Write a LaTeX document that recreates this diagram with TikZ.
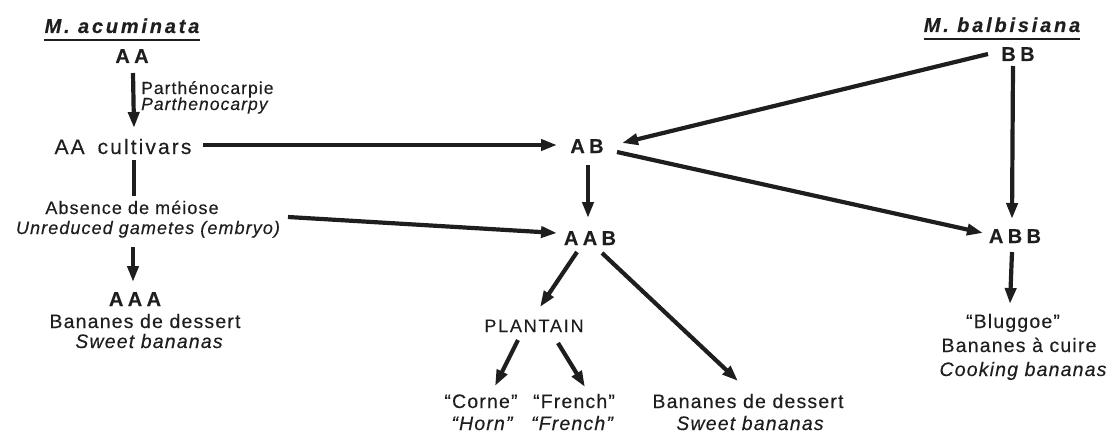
\documentclass[tikz,border=0pt]{standalone}
\usepackage{fontspec}
\setmainfont{Liberation Sans}[LetterSpace=6,FakeBold=0.3]
\usetikzlibrary{arrows.meta,calc}
\definecolor{ink}{HTML}{1E1E1E}
\tikzset{
  title/.style={font=\fontsize{20}{22}\selectfont\bfseries\itshape\addfontfeatures{LetterSpace=14}, inner sep=0pt, text=ink, anchor=base},
  gen/.style={font=\fontsize{20}{22}\selectfont\bfseries\addfontfeatures{LetterSpace=22}, inner sep=0pt, text=ink, anchor=base},
  txt/.style={font=\fontsize{19.5}{22}\selectfont, inner sep=0pt, text=ink, anchor=base},
  itx/.style={txt, font=\fontsize{19.5}{22}\selectfont\itshape},
  small/.style={font=\fontsize{17.5}{18}\selectfont, inner sep=0pt, text=ink, anchor=base west},
  uline/.style={line width=2.6pt, draw=ink},
  arr/.style={line width=4.2pt, draw=ink, -{Triangle[length=16pt,width=11pt]}},
  plainline/.style={line width=4.6pt, draw=ink},
}
\begin{document}
\begin{tikzpicture}[x=1pt,y=-1pt]
\useasboundingbox (0,0) rectangle (1116,436);
% titles
\node[title] (acum) at (122,33) {M. acuminata};
\draw[uline] (acum.base west |- 0,40) -- (acum.base east |- 0,40);
\node[title] (balb) at (1002,32) {M. balbisiana};
\draw[uline] (balb.base west |- 0,39) -- (balb.base east |- 0,39);
% genome nodes
\node[gen] (AA) at (132,63) {AA};
\node[gen] (BB) at (1018,61) {BB};
\node[gen] (AB) at (587,153) {AB};
\node[gen] (AAB) at (590,245) {AAB};
\node[gen] (ABB) at (1015,243) {ABB};
\node[gen] (AAA) at (135,306) {AAA};
% text nodes
\node[small] (parth1) at (141,94) {Parthénocarpie};
\node[small, font=\fontsize{17.5}{18}\selectfont\itshape] (parth2) at (141,110) {Parthenocarpy};
\node[txt, font=\fontsize{21}{22}\selectfont\addfontfeatures{LetterSpace=10}] (cult) at (123,154) {AA\hspace{5pt} cultivars};
\node[txt, font=\fontsize{18}{20}\selectfont] (abs1) at (132,214) {Absence de méiose};
\node[itx, font=\fontsize{18}{20}\selectfont\itshape] (abs2) at (148,234) {Unreduced gametes (embryo)};
\node[txt] (swL1) at (145,328) {Bananes de dessert};
\node[itx] (swL2) at (149,348) {Sweet bananas};
\node[txt, font=\fontsize{18}{20}\selectfont\addfontfeatures{LetterSpace=10}] (plant) at (534,332) {PLANTAIN};
\node[txt] (corne1) at (481,408) {“Corne”};
\node[itx] (corne2) at (482,430) {“Horn”};
\node[txt] (french1) at (574,408) {“French”};
\node[itx] (french2) at (572,430) {“French”};
\node[txt] (swR1) at (748,408) {Bananes de dessert};
\node[itx] (swR2) at (750,430) {Sweet bananas};
\node[txt] (blug1) at (1013,328) {“Bluggoe”};
\node[txt] (blug2) at (1019,352) {Bananes à cuire};
\node[itx] (blug3) at (1023,376) {Cooking bananas};
% connectors
\draw[arr] ($(AA.base)+(1,10)$) -- ($(cult.base)+(11,-26)$);
\draw[arr] ($(cult.base)+(80,-9)$) -- ($(AB.base)+(-30,-8)$);
\draw[plainline] ($(cult.base)+(11,6)$) -- ($(abs1.base)+(2,-18)$);
\draw[arr] ($(abs2.base)+(-15,13)$) -- ($(AAA.base)+(-2,-24)$);
\draw[arr] ($(abs2.base)+(140,-17)$) -- ($(AAB.base)+(-33,-12)$);
\draw[arr] ($(BB.base)+(-30,-7)$) -- ($(AB.base)+(35,-10)$);
\draw[arr] ($(AB.base)+(30,-1)$) -- ($(ABB.base)+(-32,-10)$);
\draw[arr] ($(BB.base)+(-5,5)$) -- ($(ABB.base)+(-3,-24)$);
\draw[arr] ($(AB.base)+(1,12)$) -- ($(AAB.base)+(-2,-27)$);
\draw[arr] ($(AAB.base)+(-13,7)$) -- ($(plant.base)+(6,-25)$);
\draw[arr] ($(AAB.base)+(12,8)$) -- ($(swR1.base)+(-10,-27)$);
\draw[arr] ($(ABB.base)+(-3,9)$) -- ($(blug1.base)+(-3,-24)$);
\draw[arr] ($(plant.base)+(-16,8)$) -- ($(corne1.base)+(14,-22)$);
\draw[arr] ($(plant.base)+(24,11)$) -- ($(french1.base)+(11,-21)$);
\end{tikzpicture}
\end{document}
